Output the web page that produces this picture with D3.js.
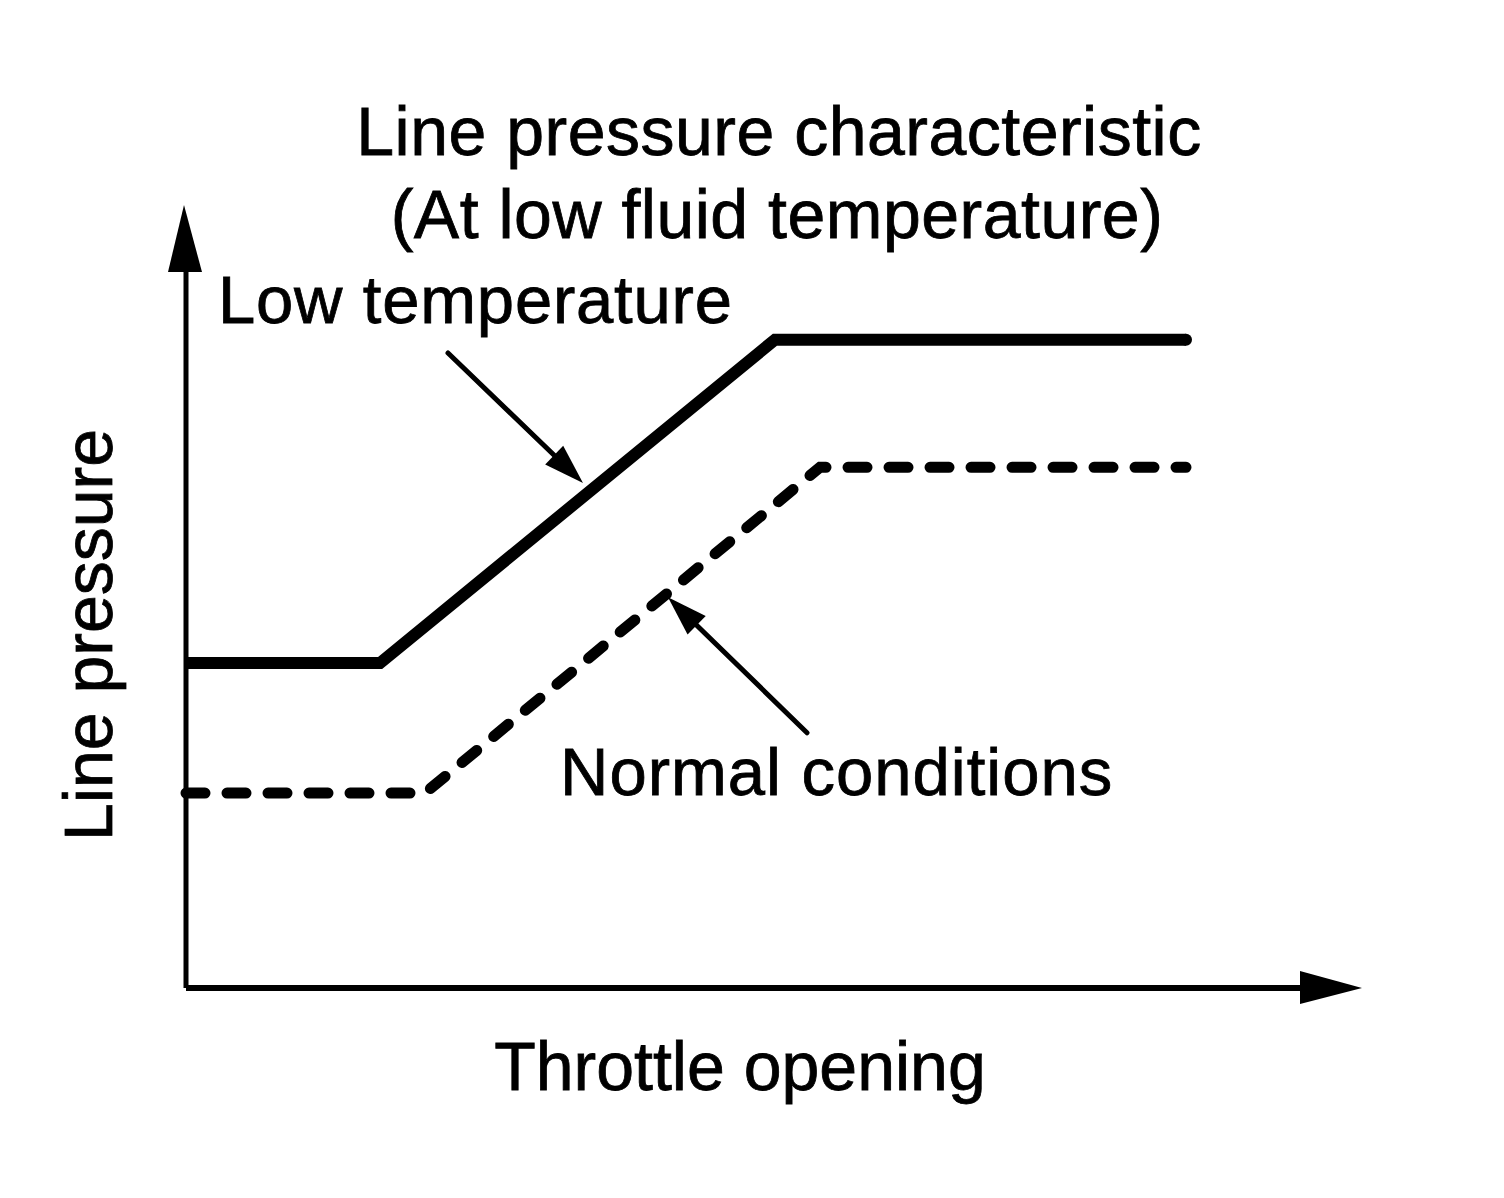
<!DOCTYPE html>
<html>
<head>
<meta charset="utf-8">
<script src="https://cdn.jsdelivr.net/npm/d3@7"></script>
<style>
  html, body { margin: 0; padding: 0; background: #fff; }
  text { font-family: "Liberation Sans", Arial, sans-serif; fill: #000; stroke: #000; stroke-width: 0.8px; }
</style>
</head>
<body>
<div id="chart"></div>
<script>
// chart values (throttle opening %, line pressure %)
var lowTempThrottle = [0, 19.4, 58.9, 100];
var lowTempPressure = [41.5, 41.5, 82.8, 82.8];
var normalThrottle = [0, 23.9, 63.4, 100];
var normalPressure = [24.9, 24.9, 66.5, 66.5];

// annotation arrows: [from, to] in data units
var lowTempArrow = [[26.2, 81.1], [39.7, 64.5]];
var normalArrow = [[62.1, 32.6], [48.2, 49.9]];

var width = 1504;
var height = 1198;

var x = d3.scaleLinear().domain([0, 100]).range([186, 1186]);
var y = d3.scaleLinear().domain([0, 100]).range([988, 205]);

var svg = d3.select('#chart')
    .append('svg')
    .attr('width', width)
    .attr('height', height);

// axes with arrow heads
var xEnd = 117.6;
svg.append('line')
    .attr('x1', x(0)).attr('x2', x(xEnd) - 40)
    .attr('y1', y(0)).attr('y2', y(0))
    .style('stroke', '#000').style('stroke-width', 6);
svg.append('path')
    .attr('d', 'M' + x(xEnd) + ',' + y(0) +
               'L' + (x(xEnd) - 62) + ',' + (y(0) - 17) +
               'L' + (x(xEnd) - 62) + ',' + (y(0) + 16) + 'Z')
    .style('fill', '#000');

svg.append('line')
    .attr('x1', x(0)).attr('x2', x(0))
    .attr('y1', y(0)).attr('y2', y(100) + 40)
    .style('stroke', '#000').style('stroke-width', 5);
svg.append('path')
    .attr('d', 'M' + (x(0) - 2) + ',' + y(100) +
               'L' + (x(0) - 18) + ',' + (y(100) + 67) +
               'L' + (x(0) + 16) + ',' + (y(100) + 67) + 'Z')
    .style('fill', '#000');

var line = d3.line()
    .x(function(d) { return x(d[0]); })
    .y(function(d) { return y(d[1]); });

svg.append('path')
    .datum(d3.zip(lowTempThrottle, lowTempPressure))
    .attr('d', line)
    .style('fill', 'none')
    .style('stroke', '#000')
    .style('stroke-width', 12)
    .style('stroke-linecap', 'butt')
    .style('stroke-linejoin', 'miter');
// rounded right end of the solid line
svg.append('circle')
    .attr('cx', x(lowTempThrottle[3]))
    .attr('cy', y(lowTempPressure[3]))
    .attr('r', 6)
    .style('fill', '#000');

svg.append('path')
    .datum(d3.zip(normalThrottle, normalPressure))
    .attr('d', line)
    .style('fill', 'none')
    .style('stroke', '#000')
    .style('stroke-width', 11)
    .style('stroke-linecap', 'round')
    .style('stroke-dasharray', '19,22');

// pointer arrows
var pointer = function(a) {
    var x1 = x(a[0][0]), y1 = y(a[0][1]);
    var x2 = x(a[1][0]), y2 = y(a[1][1]);
    var ang = Math.atan2(y2 - y1, x2 - x1);
    var len = 40, half = 13;
    var bx = x2 - len * Math.cos(ang), by = y2 - len * Math.sin(ang);
    svg.append('line')
        .attr('x1', x1).attr('y1', y1)
        .attr('x2', bx).attr('y2', by)
        .style('stroke', '#000').style('stroke-width', 5)
        .style('stroke-linecap', 'round');
    svg.append('path')
        .attr('d', 'M' + x2 + ',' + y2 +
                   'L' + (bx + half * Math.sin(ang)) + ',' + (by - half * Math.cos(ang)) +
                   'L' + (bx - half * Math.sin(ang)) + ',' + (by + half * Math.cos(ang)) + 'Z')
        .style('fill', '#000');
}
pointer(lowTempArrow);
pointer(normalArrow);

// labels
svg.append('text')
    .attr('x', 779).attr('y', 155)
    .attr('text-anchor', 'middle')
    .style('font-size', '68px')
    .style('letter-spacing', '0.5px')
    .text('Line pressure characteristic');
svg.append('text')
    .attr('x', 777).attr('y', 238)
    .attr('text-anchor', 'middle')
    .style('font-size', '68px')
    .style('letter-spacing', '0.5px')
    .text('(At low fluid temperature)');
svg.append('text')
    .attr('x', 218).attr('y', 323)
    .style('font-size', '67px')
    .style('letter-spacing', '0.8px')
    .text('Low temperature');
svg.append('text')
    .attr('x', 560).attr('y', 795)
    .style('font-size', '67px')
    .style('letter-spacing', '1px')
    .text('Normal conditions');
svg.append('text')
    .attr('x', 740).attr('y', 1090)
    .attr('text-anchor', 'middle')
    .style('font-size', '68px')
    .text('Throttle opening');
svg.append('text')
    .attr('transform', 'translate(112,635) rotate(-90)')
    .attr('text-anchor', 'middle')
    .style('font-size', '68px')
    .text('Line pressure');
</script>
</body>
</html>
